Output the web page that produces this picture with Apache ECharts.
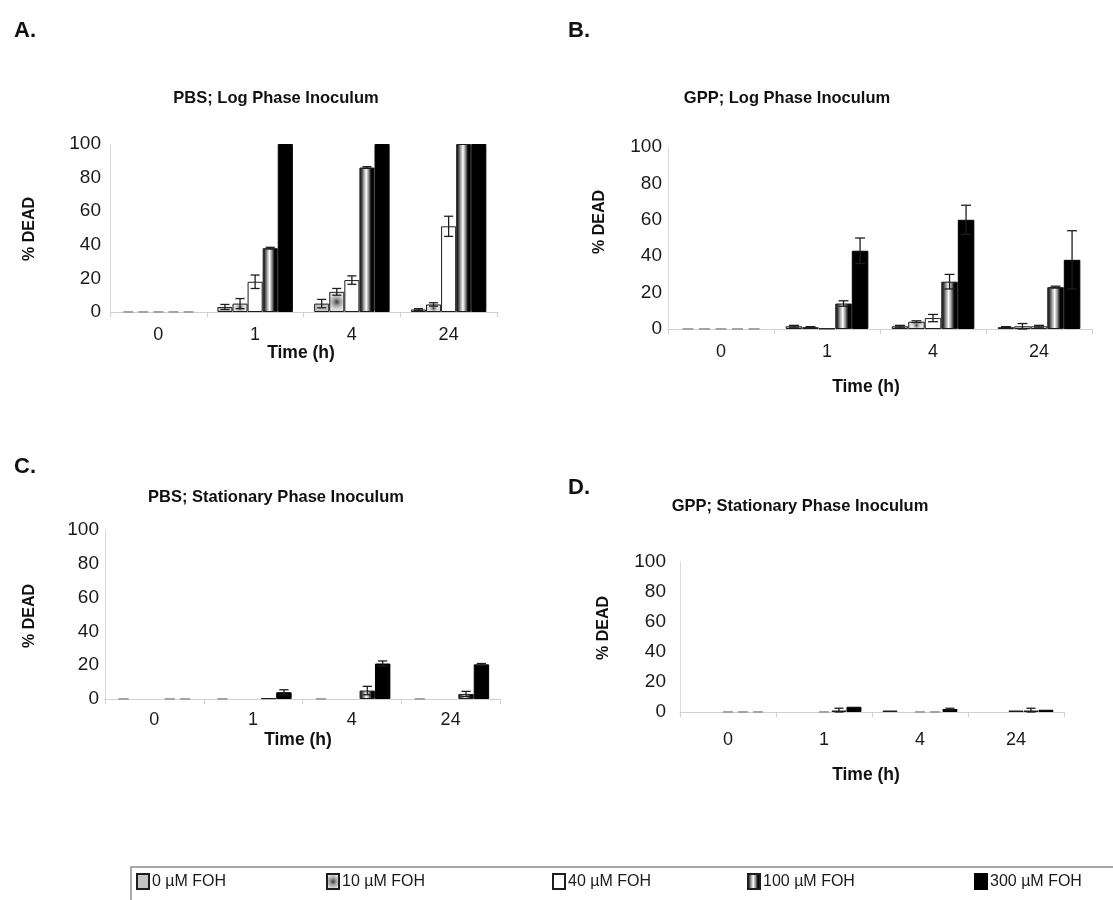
<!DOCTYPE html>
<html><head><meta charset="utf-8">
<script src="https://cdn.jsdelivr.net/npm/echarts@6/dist/echarts.min.js"></script>
<style>html,body{margin:0;padding:0;background:#fff}#c{width:1113px;height:900px}</style>
</head><body><div id="c"></div>
<script>
// ---------- data ----------
const categories = ['0', '1', '4', '24'];
const concentrations = ['0 µM FOH', '10 µM FOH', '40 µM FOH', '100 µM FOH', '300 µM FOH'];
const yTickLabels = ['0', '20', '40', '60', '80', '100'];
const panelLetters = ['A.', 'B.', 'C.', 'D.'];
const panelTitles = ['PBS; Log Phase Inoculum', 'GPP; Log Phase Inoculum',
  'PBS; Stationary Phase Inoculum', 'GPP; Stationary Phase Inoculum'];
const yName = '% DEAD';
const xName = 'Time (h)';

// rows = concentrations, columns = time points (null = not shown)
const A_mean = [
  [0, 3, 5, 1.5],
  [0, 5, 12, 4.5],
  [0, 18, 19, 51],
  [0, 38, 86, 100],
  [0, 100, 100, 100]
];
const A_err = [
  [0, 1.5, 2.5, 0.5],
  [0, 3, 2, 1],
  [0, 4, 2.5, 6],
  [0, 0.5, 0.5, 0],
  [0, 0, 0, 0]
];
const B_mean = [
  [0, 1.5, 1.5, 1],
  [0, 1, 4, 1.5],
  [0, 0.3, 6, 1.5],
  [0, 14, 26, 23],
  [0, 43, 60, 38]
];
const B_err = [
  [0, 0.5, 0.5, 0.3],
  [0, 0.3, 0.5, 1.5],
  [0, 0, 2, 0.5],
  [0, 1.5, 4, 0.5],
  [0, 7, 8, 16]
];
const C_mean = [
  [0, 0, 0, 0],
  [null, null, null, null],
  [null, null, null, null],
  [0, 0.5, 5, 3],
  [0, 4, 21, 20.5]
];
const C_err = [
  [0, 0, 0, 0],
  [0, 0, 0, 0],
  [0, 0, 0, 0],
  [0, 0, 2.5, 1.5],
  [0, 1.5, 1.5, 0.5]
];
const D_mean = [
  [null, null, 1, null],
  [null, null, null, null],
  [0, 0, 0, 1],
  [0, 1, 0, 1],
  [0, 3.5, 2, 1.5]
];
const D_err = [
  [0, 0, 0, 0],
  [0, 0, 0, 0],
  [0, 0, 0, 0],
  [0, 1.5, 0, 1.5],
  [0, 0, 0.5, 0]
];

// ---------- layout / style ----------
const FONT = "'Liberation Sans', Arial, sans-serif";
const GAP = 0.22;
const means = [A_mean, B_mean, C_mean, D_mean];
const errs = [A_err, B_err, C_err, D_err];
const grids = [
  {left: 110, top: 144, width: 387, height: 168},
  {left: 668, top: 147, width: 424, height: 182},
  {left: 105, top: 530, width: 395, height: 169},
  {left: 680, top: 562, width: 384, height: 150}
];
const xLabelMargin = [14, 14, 12, 19];
const yLabelMargin = [9, 6, 6, 14];
const letterPos = [[14, 31], [568, 31], [14, 467], [568, 488]];
const titlePos = [[276, 98], [787, 98], [276, 497], [800, 506]];
const yNamePos = [[30, 229], [600, 222], [30, 616], [604, 628]];
const xNamePos = [[301, 353], [866, 387], [298, 740], [866, 775]];
const legendX = [136, 326, 552, 747, 974];

const barStyles = [
  {color: '#c4c4c4', borderColor: '#1e1e1e', borderWidth: 1},
  {color: {type: 'radial', x: 0.5, y: 0.5, r: 0.5, colorStops: [
    {offset: 0, color: '#3a3a3a'}, {offset: 0.45, color: '#9a9a9a'}, {offset: 1, color: '#dedede'}]},
    borderColor: '#1e1e1e', borderWidth: 1},
  {color: '#ffffff', borderColor: '#1e1e1e', borderWidth: 1},
  {color: {type: 'linear', x: 0, y: 0, x2: 1, y2: 0, colorStops: [
    {offset: 0, color: '#5a5a5a'}, {offset: 0.1, color: '#1e1e1e'}, {offset: 0.28, color: '#9a9a9a'},
    {offset: 0.45, color: '#ffffff'}, {offset: 0.62, color: '#8a8a8a'}, {offset: 0.78, color: '#050505'},
    {offset: 1, color: '#000'}]},
    borderColor: '#1e1e1e', borderWidth: 1},
  {color: '#000000', borderColor: '#000', borderWidth: 1}
];

function renderErr(params, api) {
  const cat = api.value(0), v = api.value(1), e = api.value(2), s = api.value(3);
  const band = api.size([1, 0])[0];
  const bw = band * (1 - GAP) / 5;
  const base = api.coord([cat, 0]);
  const cx = base[0] + (s - 2) * bw;
  const children = [];
  if (v === 0) {
    children.push({type: 'rect', shape: {x: cx - bw * 0.33, y: base[1] - 1, width: bw * 0.66, height: 2},
      style: {fill: '#a3a3a3'}});
  } else if (e > 0) {
    const top = api.coord([cat, Math.min(v + e, 100)])[1];
    const bot = api.coord([cat, Math.max(v - e, 0)])[1];
    const cw = bw * 0.3;
    const st = {stroke: '#1e1e1e', lineWidth: 1.3};
    children.push({type: 'line', shape: {x1: cx, y1: top, x2: cx, y2: bot}, style: st});
    children.push({type: 'line', shape: {x1: cx - cw, y1: top, x2: cx + cw, y2: top}, style: st});
    children.push({type: 'line', shape: {x1: cx - cw, y1: bot, x2: cx + cw, y2: bot}, style: st});
  }
  return {type: 'group', children: children};
}

const grid = grids.map(g => Object.assign({containLabel: false}, g));
const xAxis = grids.map((g, p) => ({
  type: 'category', gridIndex: p, data: categories,
  axisLine: {lineStyle: {color: '#d0d0d0', width: 1}},
  axisTick: {show: true, length: 5, lineStyle: {color: '#d0d0d0'}},
  axisLabel: {fontSize: 18, color: '#1a1a1a', fontFamily: FONT, margin: xLabelMargin[p]}
}));
const yAxis = grids.map((g, p) => ({
  type: 'value', gridIndex: p, min: 0, max: 100, interval: 20,
  splitLine: {show: false},
  axisLine: {show: true, lineStyle: {color: '#dadada', width: 1}},
  axisTick: {show: false},
  axisLabel: {fontSize: 19, color: '#1a1a1a', fontFamily: FONT, margin: yLabelMargin[p],
    formatter: (val) => yTickLabels[Math.round(val / 20)]}
}));

const series = [];
for (let p = 0; p < 4; p++) {
  for (let s = 0; s < 5; s++) {
    series.push({
      type: 'bar', name: concentrations[s], xAxisIndex: p, yAxisIndex: p,
      barGap: '0%', barCategoryGap: (GAP * 100) + '%',
      itemStyle: barStyles[s],
      emphasis: {disabled: true},
      data: means[p][s].map(v => (v === null || v === 0) ? '-' : v)
    });
  }
  const errData = [];
  for (let s = 0; s < 5; s++) {
    for (let c = 0; c < categories.length; c++) {
      const v = means[p][s][c];
      if (v !== null) errData.push([c, v, errs[p][s][c], s]);
    }
  }
  series.push({
    type: 'custom', xAxisIndex: p, yAxisIndex: p, z: 5, silent: true,
    renderItem: renderErr, data: errData
  });
}

const legend = concentrations.map((name, i) => ({
  data: [name], left: legendX[i], top: 873, padding: 0,
  icon: 'rect', itemWidth: 12, itemHeight: 15, itemGap: 4,
  textStyle: {fontSize: 16, color: '#1a1a1a', fontFamily: FONT, padding: [0, 0, 0, -2]}
}));

const graphic = [];
for (let p = 0; p < 4; p++) {
  graphic.push({type: 'text', x: letterPos[p][0], y: letterPos[p][1],
    style: {text: panelLetters[p], fontSize: 22, fontWeight: 'bold', fontFamily: FONT, fill: '#111',
      textAlign: 'left', textVerticalAlign: 'middle'}});
  graphic.push({type: 'text', x: titlePos[p][0], y: titlePos[p][1],
    style: {text: panelTitles[p], fontSize: 16.5, fontWeight: 'bold', fontFamily: FONT, fill: '#111',
      textAlign: 'center', textVerticalAlign: 'middle'}});
  graphic.push({type: 'text', x: yNamePos[p][0], y: yNamePos[p][1], rotation: Math.PI / 2,
    style: {text: yName, fontSize: 16, fontWeight: 'bold', fontFamily: FONT, fill: '#111',
      textAlign: 'center', textVerticalAlign: 'middle'}});
  graphic.push({type: 'text', x: xNamePos[p][0], y: xNamePos[p][1],
    style: {text: xName, fontSize: 17.5, fontWeight: 'bold', fontFamily: FONT, fill: '#111',
      textAlign: 'center', textVerticalAlign: 'middle'}});
}
graphic.push({type: 'rect', shape: {x: 131, y: 867, width: 1000, height: 50},
  style: {fill: 'none', stroke: '#8a8a8a', lineWidth: 1.5}, z: -1});

const chart = echarts.init(document.getElementById('c'), null, {renderer: 'canvas'});
chart.setOption({
  animation: false,
  backgroundColor: '#ffffff',
  grid: grid, xAxis: xAxis, yAxis: yAxis, series: series,
  legend: legend, graphic: graphic
});
</script>
</body></html>
